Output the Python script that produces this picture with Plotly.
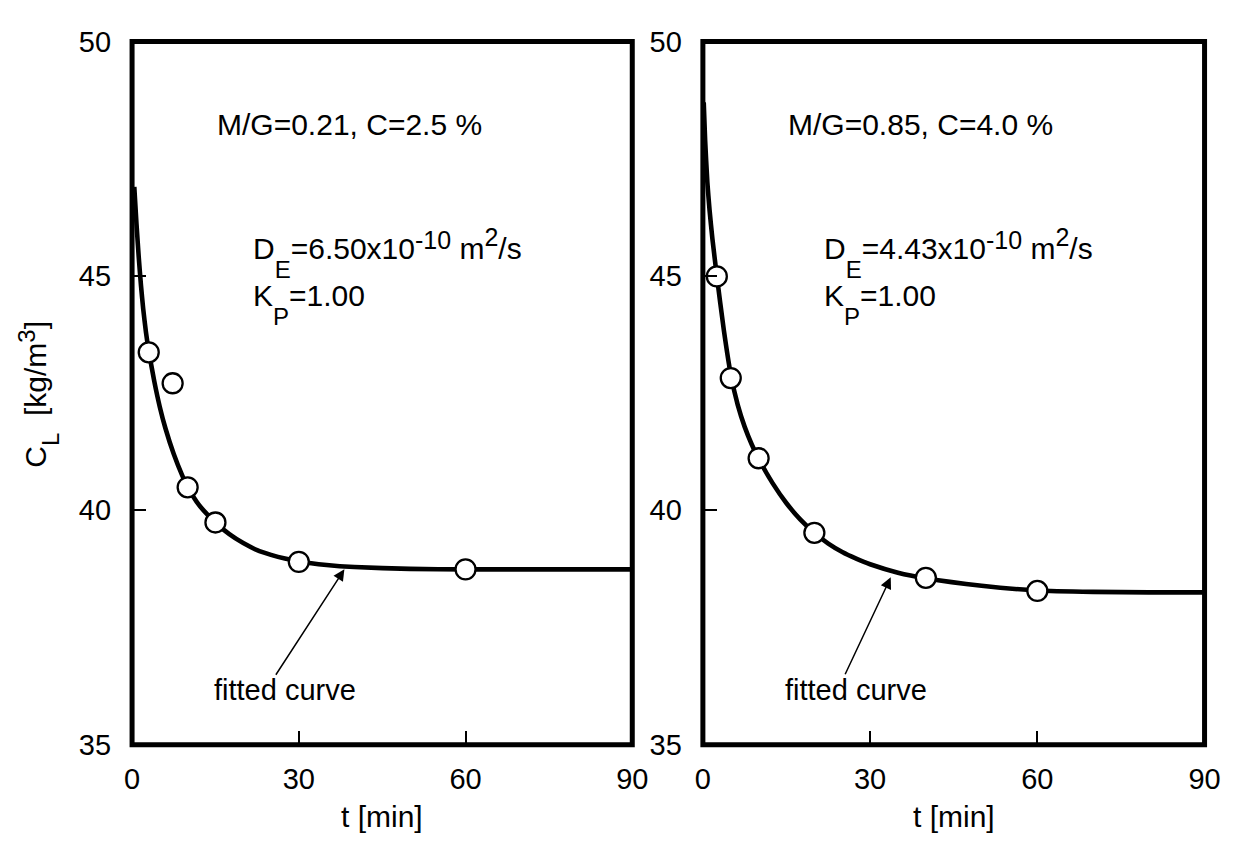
import plotly.graph_objects as go

FONT = "Liberation Sans, Arial, Helvetica, sans-serif"

# ---------------- data ----------------
# left panel: M/G=0.21, C=2.5 %
t_left_pts = [3, 7.3, 10, 15, 30, 60]
c_left_pts = [43.37, 42.71, 40.49, 39.74, 38.9, 38.74]
t_left_fit = [0.4, 0.8, 1.2, 1.6, 2.0, 2.5, 3, 4, 5, 6, 7.5, 9, 10, 12, 15, 17.5, 20, 22.5, 25, 27.5,
              30, 35, 40, 50, 60, 75, 90]
c_left_fit = [46.9, 46.1, 45.4, 44.8, 44.3, 43.8, 43.4, 42.75, 42.2, 41.75, 41.2, 40.75, 40.5, 40.12, 39.74,
              39.49, 39.3, 39.15, 39.05, 38.97, 38.91, 38.835, 38.79, 38.75, 38.74, 38.74, 38.74]

# right panel: M/G=0.85, C=4.0 %
t_right_pts = [2.5, 5, 10, 20, 40, 60]
c_right_pts = [44.99, 42.82, 41.11, 39.52, 38.56, 38.28]
t_right_fit = [0.15, 0.4, 0.8, 1.2, 1.7, 2.5, 3.75, 5, 6.25, 7.5, 8.75, 10, 12.5, 15, 17.5, 20, 22.5, 25,
               27.5, 30, 35, 40, 50, 60, 70, 80, 90]
c_right_fit = [48.7, 47.9, 47.0, 46.4, 45.8, 45.0, 43.85, 42.9, 42.25, 41.78, 41.41, 41.1, 40.58, 40.15,
               39.8, 39.52, 39.29, 39.11, 38.97, 38.85, 38.67, 38.55, 38.39, 38.29, 38.26, 38.25, 38.25]

x_ticks = [0, 30, 60, 90]
y_ticks = [35, 40, 45, 50]

SUB = '<span style="font-size:24px;baseline-shift:-19px">{}</span>'
SUP = '<span style="font-size:25px;baseline-shift:{}px">{}</span>'

left_cond = "M/G=0.21, C=2.5 %"
right_cond = "M/G=0.85, C=4.0 %"
left_de = "D" + SUB.format("E") + "=6.50x10" + SUP.format(10, "-10") + " m" + SUP.format(13, "2") + "/s"
right_de = "D" + SUB.format("E") + "=4.43x10" + SUP.format(10, "-10") + " m" + SUP.format(13, "2") + "/s"
kp_text = "K" + SUB.format("P") + "=1.00"
fit_text = "fitted curve"
x_title = "t [min]"
y_title = ('C<span style="font-size:24px;baseline-shift:-13px">L</span>&nbsp; [kg/m'
           '<span style="font-size:24px;baseline-shift:11px">3</span>]')

# arrow (tip, tail) in data units
left_arrow = dict(tip=(38.2, 38.74), tail=(25.7, 36.46))
right_arrow = dict(tip=(33.7, 38.57), tail=(25.4, 36.47))

# ---------------- figure ----------------
fig = go.Figure()

for xa, ya, tf, cf, tp, cp in [("x", "y", t_left_fit, c_left_fit, t_left_pts, c_left_pts),
                               ("x2", "y2", t_right_fit, c_right_fit, t_right_pts, c_right_pts)]:
    fig.add_trace(go.Scatter(x=tf, y=cf, mode="lines", xaxis=xa, yaxis=ya,
                             line=dict(color="black", width=4.6, shape="spline", smoothing=0.5),
                             hoverinfo="skip", showlegend=False))
    fig.add_trace(go.Scatter(x=tp, y=cp, mode="markers", xaxis=xa, yaxis=ya,
                             marker=dict(symbol="circle", size=20, color="white",
                                         line=dict(color="black", width=2.3)),
                             showlegend=False))

W, H = 1249, 856
dom_x1 = [126.5 / W, 636.5 / W]
dom_x2 = [708.5 / W, 1220 / W]
dom_y = [1 - 757 / H, 1 - 26.5 / H]

axis_common = dict(showgrid=False, zeroline=False, showline=False, ticks="inside",
                   ticklen=14, tickwidth=1.5, tickcolor="black",
                   tickfont=dict(family=FONT, size=29, color="black"))

fig.update_layout(
    width=W, height=H,
    margin=dict(l=0, r=0, t=0, b=0),
    paper_bgcolor="white", plot_bgcolor="white",
    showlegend=False,
    xaxis=dict(domain=dom_x1, range=[0, 90], tickvals=x_ticks, anchor="y",
               ticklabelstandoff=14, **axis_common),
    yaxis=dict(domain=dom_y, range=[35, 50], tickvals=y_ticks, anchor="x",
               ticklabelstandoff=20, **axis_common),
    xaxis2=dict(domain=dom_x2, range=[0, 90], tickvals=x_ticks, anchor="y2",
                ticklabelstandoff=14, **axis_common),
    yaxis2=dict(domain=dom_y, range=[35, 50], tickvals=y_ticks, anchor="x2",
                ticklabelstandoff=20, **axis_common),
)

# frames
for xa, ya in [("x", "y"), ("x2", "y2")]:
    fig.add_shape(type="rect", xref=f"{xa} domain", yref=f"{ya} domain",
                  x0=0, x1=1, y0=0, y1=1, line=dict(color="black", width=5),
                  fillcolor="rgba(0,0,0,0)", layer="above")

text_font = dict(family=FONT, size=30, color="black")
annots = []
for xa, ya, cond, de in [("x", "y", left_cond, left_de), ("x2", "y2", right_cond, right_de)]:
    annots.append(dict(xref=f"{xa} domain", yref=f"{ya} domain", x=0.166, y=0.882,
                       xanchor="left", yanchor="middle", text=cond, showarrow=False, font=text_font))
    annots.append(dict(xref=f"{xa} domain", yref=f"{ya} domain", x=0.237, y=0.699,
                       xanchor="left", yanchor="middle", text=de, showarrow=False, font=text_font))
    annots.append(dict(xref=f"{xa} domain", yref=f"{ya} domain", x=0.237, y=0.626,
                       xanchor="left", yanchor="middle", text=kp_text, showarrow=False, font=text_font))
    annots.append(dict(xref=f"{xa} domain", yref=f"{ya} domain", x=0.451, y=0.078,
                       xanchor="right", yanchor="middle", text=fit_text, showarrow=False,
                       font=dict(family=FONT, size=29, color="black")))

for xa, ya, arr in [("x", "y", left_arrow), ("x2", "y2", right_arrow)]:
    annots.append(dict(xref=xa, yref=ya, axref=xa, ayref=ya,
                       x=arr["tip"][0], y=arr["tip"][1], ax=arr["tail"][0], ay=arr["tail"][1],
                       text="", showarrow=True, arrowhead=2, arrowsize=1.5, arrowwidth=1.5,
                       arrowcolor="black", standoff=0))

annots.append(dict(xref="paper", yref="paper", x=31 / W, y=1 - 393 / H, xanchor="center", yanchor="middle",
                   text=y_title, textangle=-90, showarrow=False, font=dict(family=FONT, size=30, color="black")))
annots.append(dict(xref="paper", yref="paper", x=381.5 / W, y=1 - 832 / H, xanchor="center", yanchor="middle",
                   text=x_title, showarrow=False, font=dict(family=FONT, size=30, color="black")))
annots.append(dict(xref="paper", yref="paper", x=964.2 / W, y=1 - 832 / H, xanchor="center", yanchor="middle",
                   text=x_title, showarrow=False, font=dict(family=FONT, size=30, color="black")))

fig.update_layout(annotations=annots)

fig.write_html("out.html")
